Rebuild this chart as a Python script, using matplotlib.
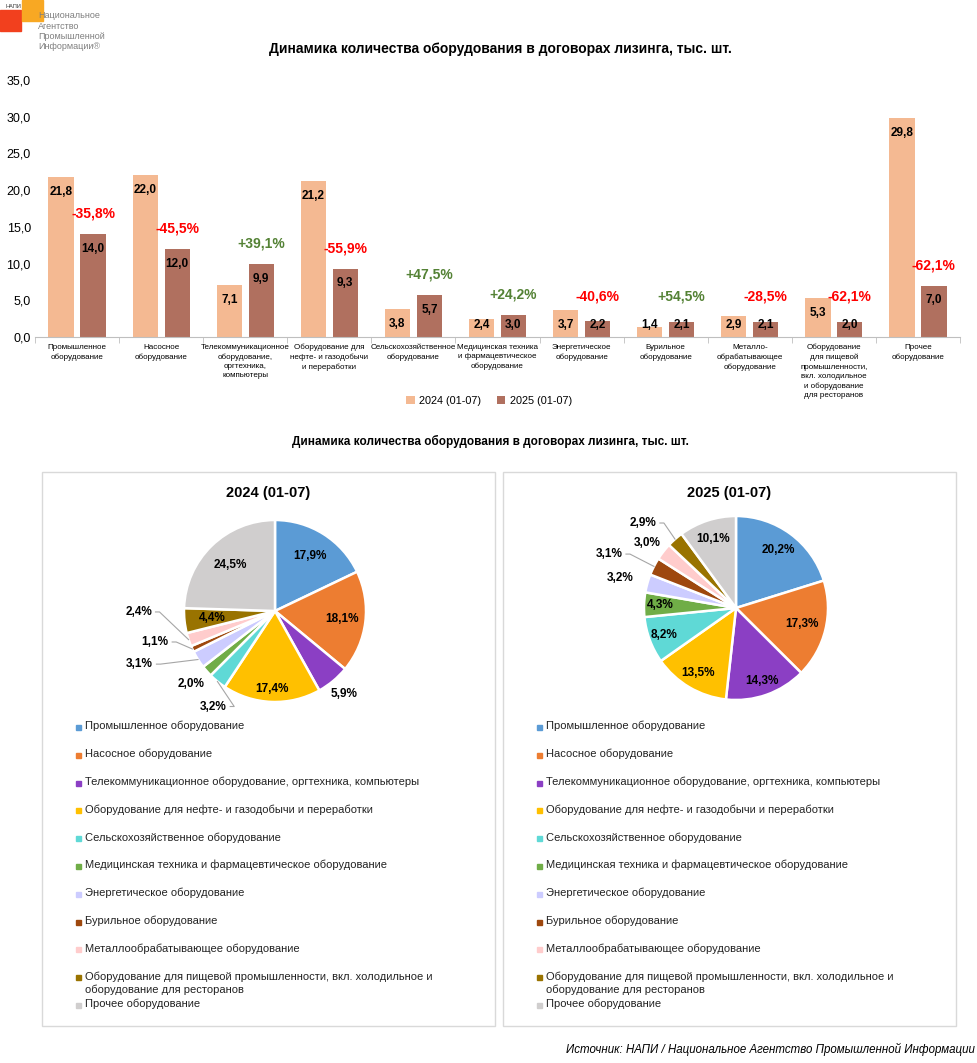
import numpy as np
import matplotlib.pyplot as plt
from matplotlib.patches import Rectangle

plt.rcParams['font.family'] = ['Liberation Sans', 'DejaVu Sans']

W, H = 977, 1063

# --- data ---
tick_labels = [
    'Промышленное\nоборудование',
    'Насосное\nоборудование',
    'Телекоммуникационное\nоборудование,\nоргтехника,\nкомпьютеры',
    'Оборудование для\nнефте- и газодобычи\nи переработки',
    'Сельскохозяйственное\nоборудование',
    'Медицинская техника\nи фармацевтическое\nоборудование',
    'Энергетическое\nоборудование',
    'Бурильное\nоборудование',
    'Металло-\nобрабатывающее\nоборудование',
    'Оборудование\nдля пищевой\nпромышленности,\nвкл. холодильное\nи оборудование\nдля ресторанов',
    'Прочее\nоборудование',
]
legend_names = [
    'Промышленное оборудование',
    'Насосное оборудование',
    'Телекоммуникационное оборудование, оргтехника, компьютеры',
    'Оборудование для нефте- и газодобычи и переработки',
    'Сельскохозяйственное оборудование',
    'Медицинская техника и фармацевтическое оборудование',
    'Энергетическое оборудование',
    'Бурильное оборудование',
    'Металлообрабатывающее оборудование',
    'Оборудование для пищевой промышленности, вкл. холодильное и\nоборудование для ресторанов',
    'Прочее оборудование',
]
v2024 = [21.8, 22.0, 7.1, 21.2, 3.8, 2.4, 3.7, 1.4, 2.9, 5.3, 29.8]
v2025 = [14.0, 12.0, 9.9, 9.3, 5.7, 3.0, 2.2, 2.1, 2.1, 2.0, 7.0]
change = [-35.8, -45.5, 39.1, -55.9, 47.5, 24.2, -40.6, 54.5, -28.5, -62.1, -62.1]
share2024 = [17.9, 18.1, 5.9, 17.4, 3.2, 2.0, 3.1, 1.1, 2.4, 4.4, 24.5]
share2025 = [20.2, 17.3, 14.3, 13.5, 8.2, 4.3, 3.2, 3.1, 3.0, 2.9, 10.1]
series_names = ['2024 (01-07)', '2025 (01-07)']

pie_colors = ['#5B9BD5', '#ED7D31', '#8B3FC4', '#FFC000', '#5FD9D6', '#70AD47',
              '#CCCCFF', '#9E480E', '#FFCCCC', '#997300', '#D0CECE']
c24, c25 = '#F4B992', '#B0705F'
title = 'Динамика количества оборудования в договорах лизинга, тыс. шт.'


def box(x0, y0, x1, y1):
    # pixel box (origin top-left) -> figure fraction
    return [x0 / W, 1 - y1 / H, (x1 - x0) / W, (y1 - y0) / H]


def fx(x):
    return x / W


def fy(y):
    return 1 - y / H


def fmt(v):
    return f'{v:.1f}'.replace('.', ',')


fig = plt.figure(figsize=(W / 100, H / 100), dpi=100)

# --- logo ---
fig.patches.append(Rectangle((fx(0), fy(31)), 21 / W, 21 / H, transform=fig.transFigure,
                             color='#F2401E', zorder=0))
fig.patches.append(Rectangle((fx(22), fy(21)), 21 / W, 21 / H, transform=fig.transFigure,
                             color='#F8A823', zorder=0))
fig.text(fx(13), fy(6), 'НАПИ', fontsize=4, ha='center', va='center', color='#333333')
for i, s in enumerate(['Национальное', 'Агентство', 'Промышленной', 'Информации®']):
    fig.text(fx(38), fy(16 + i * 10.3), s, fontsize=6.5, va='center', color='#7F7F7F')

# --- bar chart ---
fig.text(fx(500), fy(49), title, ha='center', va='center', fontsize=10, fontweight='bold')
ax = fig.add_axes(box(35, 80, 960, 337))
x = np.arange(len(v2024))
ax.bar(x - 0.19, v2024, 0.3, color=c24, label=series_names[0])
ax.bar(x + 0.19, v2025, 0.3, color=c25, label=series_names[1])
ax.set_xlim(-0.5, len(x) - 0.5)
ax.set_ylim(0, 35)
yt = np.arange(0, 36, 5)
ax.set_yticks(yt)
ax.set_yticklabels([fmt(t) for t in yt], fontsize=9)
ax.tick_params(axis='y', length=0, pad=3)
ax.set_xticks(x)
ax.set_xticklabels(tick_labels, fontsize=5.8, linespacing=1.45,
                   family=['Liberation Sans Narrow', 'Liberation Sans'])
ax.tick_params(axis='x', which='major', length=0, pad=5)
ax.set_xticks(np.arange(-0.5, len(x), 1), minor=True)
ax.tick_params(axis='x', which='minor', length=4, color='#BFBFBF')
for s in ['top', 'right', 'left']:
    ax.spines[s].set_visible(False)
ax.spines['bottom'].set_color('#BFBFBF')

for i in range(len(x)):
    ax.text(x[i] - 0.19, max(v2024[i] - 2.0, 1.6), fmt(v2024[i]), ha='center', va='center',
            fontsize=8.5, fontweight='bold')
    ax.text(x[i] + 0.19, max(v2025[i] - 2.0, 1.6), fmt(v2025[i]), ha='center', va='center',
            fontsize=8.5, fontweight='bold')
    c = change[i]
    txt = ('+' if c > 0 else '') + fmt(c) + '%'
    ax.text(x[i] + 0.19, max(v2025[i] + 2.8, 5.5), txt, ha='center', va='center',
            fontsize=10, fontweight='bold', color='#548235' if c > 0 else '#FF0000')

ax.legend(loc='center', bbox_to_anchor=(fx(489), fy(401)), bbox_transform=fig.transFigure,
          ncol=2, frameon=False, fontsize=7.8, handlelength=0.8, handleheight=0.8,
          columnspacing=1.4, handletextpad=0.4)

# --- pies ---
fig.text(fx(490), fy(441), title, ha='center', va='center', fontsize=8.5, fontweight='bold')


def draw_pie(px0, cx, cy, R, name, shares, lab_r, ang_fix, leaders):
    fig.patches.append(Rectangle((fx(px0), fy(1026)), 453 / W, 554 / H,
                                 transform=fig.transFigure, fill=False,
                                 edgecolor='#D9D9D9', lw=1))
    fig.text(fx(px0 + 226), fy(493), name, ha='center', va='center',
             fontsize=10.5, fontweight='bold')
    pax = fig.add_axes(box(cx - 220, cy - 220, cx + 220, cy + 220))
    wedges, _ = pax.pie(shares, colors=pie_colors, radius=R, startangle=90,
                        counterclock=False,
                        wedgeprops=dict(edgecolor='white', linewidth=1.8))
    pax.set_xlim(-220, 220)
    pax.set_ylim(-220, 220)
    pax.axis('off')
    for i, w in enumerate(wedges):
        mid = np.deg2rad((w.theta1 + w.theta2) / 2)
        a = np.deg2rad(ang_fix.get(i, np.rad2deg(mid)))
        lx, ly = lab_r[i] * R * np.cos(a), lab_r[i] * R * np.sin(a)
        pax.text(lx, ly, fmt(shares[i]) + '%', ha='center', va='center',
                 fontsize=8.5, fontweight='bold')
        if i in leaders:
            ex, ey = R * np.cos(mid), R * np.sin(mid)
            sx = lx + 17 if ex > lx else lx - 17
            pax.plot([sx, sx + 4 * np.sign(ex - lx), ex], [ly, ly, ey],
                     color='#A6A6A6', lw=0.8)
    # legend
    for i, s in enumerate(legend_names):
        y = 727 + i * 27.8
        fig.patches.append(Rectangle((fx(px0 + 34), fy(y + 3)), 5 / W, 5 / H,
                                     transform=fig.transFigure, color=pie_colors[i]))
        fig.text(fx(px0 + 43), fy(y - 6), s, ha='left', va='top', fontsize=8,
                 linespacing=1.3, color='#222222')


draw_pie(42, 275, 611, 91, series_names[0], share2024,
         [0.71, 0.74, 1.19, 0.86, 1.25, 1.22, 1.6, 1.36, 1.5, 0.69, 0.71],
         {4: -122.9, 5: -139.0, 6: -158.6, 7: -165.5, 8: -179.6},
         [4, 6, 7, 8])
draw_pie(503, 736, 608, 92, series_names[1], share2025,
         [0.78, 0.74, 0.84, 0.82, 0.83, 0.82, 1.3, 1.5, 1.2, 1.37, 0.79],
         {6: 165.5, 7: 157.0, 8: 143.9, 9: 137.6},
         [7, 9])

fig.text(fx(975), fy(1049), 'Источник: НАПИ / Национальное Агентство Промышленной Информации',
         ha='right', va='center', fontsize=8.3, style='italic')

fig.savefig('out.png', dpi=100)
